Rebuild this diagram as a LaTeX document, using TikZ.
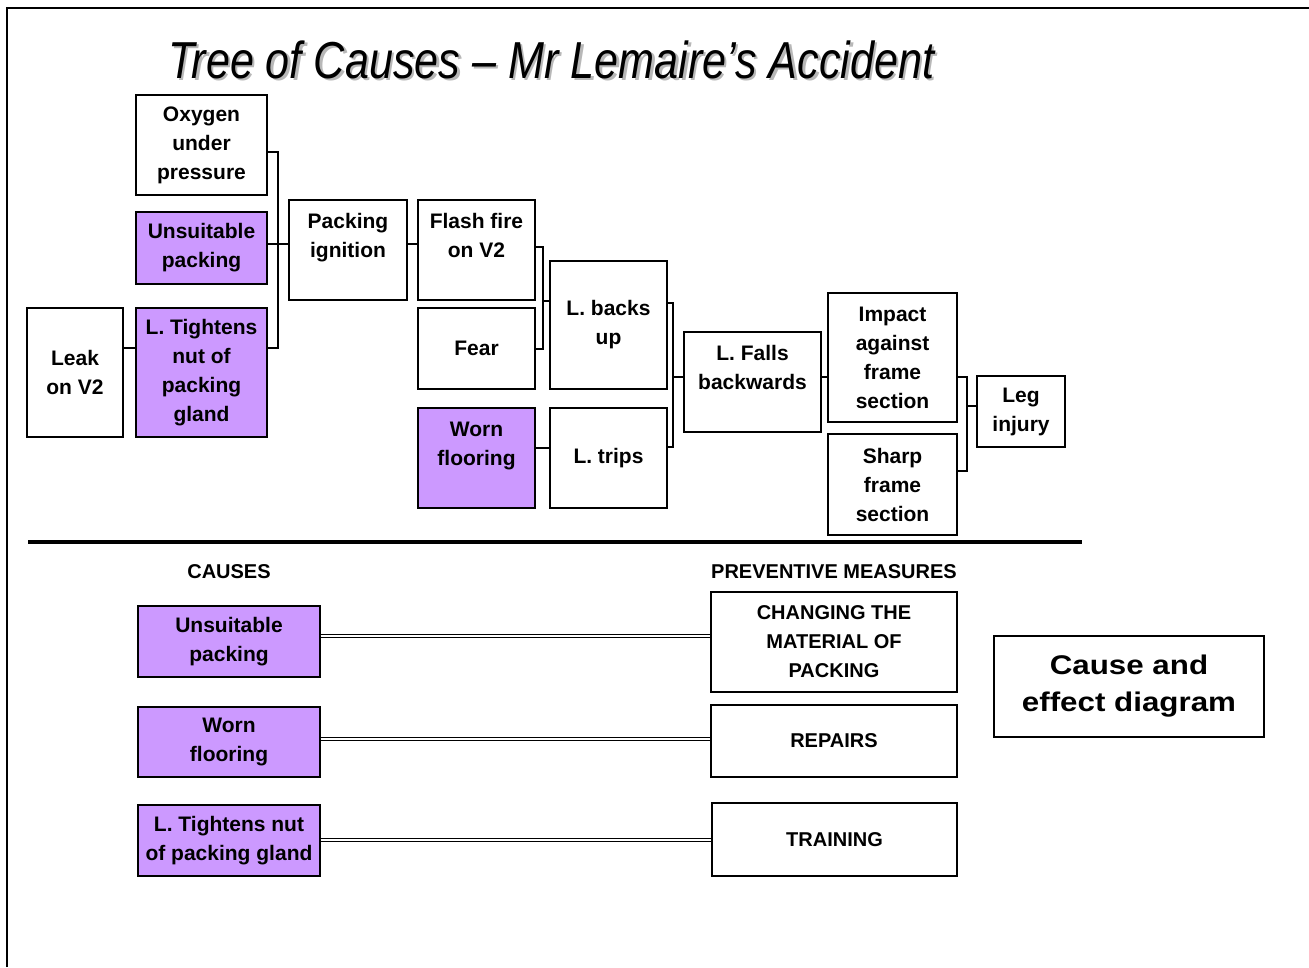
\documentclass[tikz,border=0pt]{standalone}
\usepackage{fontspec}
\setmainfont{Liberation Sans}
\newfontfamily\titlefont[FakeStretch=0.83]{Liberation Sans}
\newfontfamily\widefont[FakeStretch=1.16]{Liberation Sans}
\definecolor{lilac}{HTML}{CC99FF}
\begin{document}
\begin{tikzpicture}[x=1pt,y=-1pt,
  bx/.style={draw=black, line width=1.4pt, fill=white, inner sep=0pt, align=center,
     font=\bfseries\fontsize{21}{29}\selectfont},
  cz/.style={bx, fill=lilac},
  lnk/.style={draw=black, line width=1.2pt},
  dbl/.style={draw=black, line width=1.3pt, double=white, double distance=2.2pt},
  hdr/.style={font=\bfseries\fontsize{20}{24}\selectfont, inner sep=0pt},
  ttl/.style={anchor=base, inner sep=0pt, font=\titlefont\itshape\fontsize{52}{60}\selectfont}]
\useasboundingbox (0,0) rectangle (1309,967);
% frame
\draw[line width=2.5pt] (7,967) -- (7,8) -- (1309,8);
% title with its shadow
\node[ttl, text=black!28] (tsh) at (554,80.5) {Tree of Causes – Mr Lemaire’s Accident};
\node[ttl] (title) at (551.5,78) {Tree of Causes – Mr Lemaire’s Accident};
% tree
\node[bx, minimum width=131pt, minimum height=100pt] (oxy) at (201.5,145) {Oxygen\\under\\pressure};
\node[cz, minimum width=131pt, minimum height=72pt] (uns) at (201.5,248) {Unsuitable\\packing};
\node[cz, minimum width=131pt, minimum height=129pt] (tig) at (201.5,372.5) {L. Tightens\\nut of\\packing\\gland};
\node[bx, minimum width=96pt, minimum height=129pt] (leak) at (75,372.5) {Leak\\on V2};
\node[bx, minimum width=118pt, minimum height=100pt] (pig) at (348,250) {Packing\\ignition\\\mbox{}};
\node[bx, minimum width=117pt, minimum height=100pt] (flash) at (476.5,250) {Flash fire\\on V2\\\mbox{}};
\node[bx, minimum width=117pt, minimum height=81pt] (fear) at (476.5,348.5) {Fear};
\node[cz, minimum width=117pt, minimum height=100pt] (worn) at (476.5,458) {Worn\\flooring\\\mbox{}};
\node[bx, minimum width=117pt, minimum height=128pt] (back) at (608.5,325) {L. backs\\up};
\node[bx, minimum width=117pt, minimum height=100pt] (trips) at (608.5,458) {L. trips};
\node[bx, minimum width=137pt, minimum height=100pt] (falls) at (752.5,382) {L. Falls\\backwards\\\mbox{}};
\node[bx, minimum width=129pt, minimum height=129pt] (impact) at (892.5,357.5) {Impact\\against\\frame\\section};
\node[bx, minimum width=129pt, minimum height=101pt] (sharp) at (892.5,484.5) {Sharp\\frame\\section};
\node[bx, minimum width=88pt, minimum height=71pt] (leg) at (1021,411.5) {Leg\\injury};
% connectors
\draw[lnk] (oxy.east |- 0,152) -| (278,348) -- (tig.east |- 0,348);
\draw[lnk] (uns.east |- 0,244) -- (pig.west |- 0,244);
\draw[lnk] (leak.east |- 0,348) -- (tig.west |- 0,348);
\draw[lnk] (pig.east |- 0,244) -- (flash.west |- 0,244);
\draw[lnk] (flash.east |- 0,247) -| (543,349) -- (fear.east |- 0,349);
\draw[lnk] (543,301) -- (back.west |- 0,301);
\draw[lnk] (worn.east |- 0,448) -- (trips.west |- 0,448);
\draw[lnk] (back.east |- 0,303) -| (673,447) -- (trips.east |- 0,447);
\draw[lnk] (673,377) -- (falls.west |- 0,377);
\draw[lnk] (falls.east |- 0,377) -- (impact.west |- 0,377);
\draw[lnk] (impact.east |- 0,377) -| (967,471) -- (sharp.east |- 0,471);
\draw[lnk] (967,406) -- (leg.west |- 0,406);
% separator
\draw[line width=3.5pt] (28,542) -- (1082,542);
% lower part
\node[hdr] (hc) at (229,572) {CAUSES};
\node[hdr] (hp) at (834,572) {PREVENTIVE MEASURES};
\node[cz, minimum width=182pt, minimum height=71pt] (cu) at (229,641.5) {Unsuitable\\packing};
\node[cz, minimum width=182pt, minimum height=70pt] (cw) at (229,742) {Worn\\flooring};
\node[cz, minimum width=182pt, minimum height=71pt] (ct) at (229,840.5) {L. Tightens nut\\of packing gland};
\node[bx, minimum width=246pt, minimum height=100pt, font=\bfseries\fontsize{20}{29}\selectfont] (pm1) at (834,642) {CHANGING THE\\MATERIAL OF\\PACKING};
\node[bx, minimum width=246pt, minimum height=72pt, font=\bfseries\fontsize{20}{29}\selectfont] (pm2) at (834,741) {REPAIRS};
\node[bx, minimum width=245pt, minimum height=73pt, font=\bfseries\fontsize{20}{29}\selectfont] (pm3) at (834.5,839.5) {TRAINING};
\draw[dbl] (cu.east |- 0,636) -- (pm1.west |- 0,636);
\draw[dbl] (cw.east |- 0,739) -- (pm2.west |- 0,739);
\draw[dbl] (ct.east |- 0,840) -- (pm3.west |- 0,840);
\node[draw=black, line width=2pt, minimum width=270pt, minimum height=101pt, inner sep=0pt, align=center,
  font=\widefont\bfseries\fontsize{27}{37}\selectfont] (ced) at (1129,686.5) {Cause and\\effect diagram};
\end{tikzpicture}
\end{document}
